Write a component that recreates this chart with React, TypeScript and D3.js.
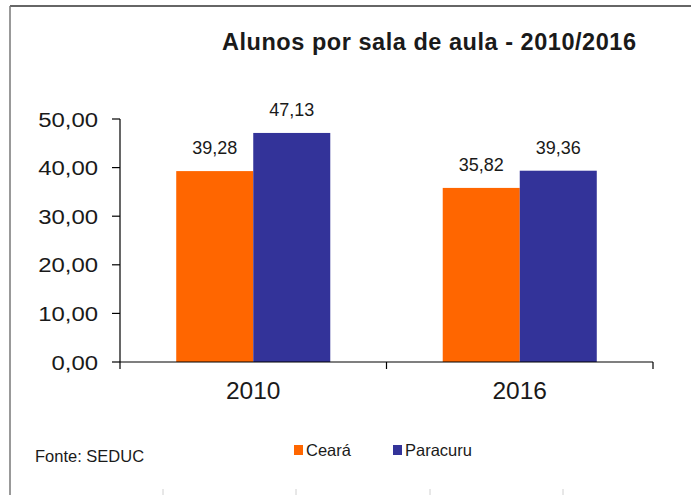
import React from "react";
import * as d3 from "d3";

const categories = ["2010", "2016"];
const series = ["Ceará", "Paracuru"];
const cearaValues = [39.28, 35.82];
const paracuruValues = [47.13, 39.36];
const yTicks = [0, 10, 20, 30, 40, 50];
const colors = ["#FF6600", "#333399"];
const titleText = "Alunos por sala de aula - 2010/2016";
const sourceText = "Fonte: SEDUC";

const W = 691;
const H = 495;
const FONT = "'Liberation Sans', Arial, Helvetica, sans-serif";
const TEXT = "#1a1a1a";

const fmt = (v: number) => d3.format(".2f")(v).replace(".", ",");

export default function App() {
  const x = d3.scaleBand<string>().domain(categories).range([120, 653]).paddingInner(0).paddingOuter(0);
  const inner = d3
    .scaleBand<string>()
    .domain(series)
    .range([0, x.bandwidth()])
    .paddingInner(0)
    .paddingOuter(0.73);
  const y = d3.scaleLinear().domain([0, 50]).range([362, 119]);
  const valuesBySeries = [cearaValues, paracuruValues];
  const x0 = x.range()[0];
  const x1 = x.range()[1];

  const bottomTicks = [163, 296, 430, 563];

  return (
    <svg
      width={W}
      height={H}
      style={{ position: "absolute", left: 0, top: 0, background: "#fff" }}
      fontFamily={FONT}
    >
      <rect x={0} y={0} width={W} height={H} fill="#fff" />
      {/* frame */}
      <line x1={10} y1={6} x2={W} y2={6} stroke="#333" strokeWidth={1.5} />
      <line x1={10} y1={6} x2={10} y2={H} stroke="#777" strokeWidth={1.5} />
      {bottomTicks.map((t) => (
        <line key={t} x1={t} y1={489} x2={t} y2={H} stroke="#d0d0d0" strokeWidth={1} />
      ))}

      {/* title */}
      <text
        x={222}
        y={50}
        fontSize={23.5}
        fontWeight="bold"
        fill={TEXT}
        textLength={414}
        lengthAdjust="spacing"
      >
        {titleText}
      </text>

      {/* bars */}
      {categories.map((c, ci) =>
        series.map((s, si) => {
          const v = valuesBySeries[si][ci];
          const bx = (x(c) as number) + (inner(s) as number);
          const bw = inner.bandwidth();
          return (
            <g key={c + s}>
              <rect x={bx} y={y(v)} width={bw} height={y(0) - y(v)} fill={colors[si]} />
              <text
                x={bx + bw / 2}
                y={y(v) - 17}
                textAnchor="middle"
                fontSize={18}
                fill={TEXT}
              >
                {fmt(v)}
              </text>
            </g>
          );
        })
      )}

      {/* y axis */}
      <line x1={x0} y1={y(50)} x2={x0} y2={y(0)} stroke="#000" strokeWidth={1.2} />
      {yTicks.map((t) => (
        <g key={t}>
          <line x1={112} y1={y(t)} x2={x0} y2={y(t)} stroke="#000" strokeWidth={1.2} />
          <g transform={`translate(98,${y(t)}) scale(1.14,1)`}>
            <text x={0} y={0} dy="0.36em" textAnchor="end" fontSize={21} fill={TEXT}>
              {fmt(t)}
            </text>
          </g>
        </g>
      ))}

      {/* x axis */}
      <line x1={x0} y1={y(0)} x2={x1} y2={y(0)} stroke="#000" strokeWidth={1.2} />
      {[...categories.map((c) => x(c) as number), x1].map((t, i) => (
        <line key={i} x1={t} y1={y(0)} x2={t} y2={369} stroke="#000" strokeWidth={1.2} />
      ))}
      {categories.map((c) => (
        <text
          key={c}
          x={(x(c) as number) + x.bandwidth() / 2}
          y={399}
          textAnchor="middle"
          fontSize={24.5}
          fill={TEXT}
        >
          {c}
        </text>
      ))}

      {/* legend */}
      {series.map((s, i) => {
        const lx = [294, 393][i];
        return (
          <g key={s}>
            <rect x={lx} y={445} width={9} height={10} fill={colors[i]} />
            <text x={lx + 12} y={456} fontSize={16.5} fill={TEXT}>
              {s}
            </text>
          </g>
        );
      })}

      {/* source */}
      <text x={35} y={462} fontSize={16.5} fill={TEXT}>
        {sourceText}
      </text>
    </svg>
  );
}
